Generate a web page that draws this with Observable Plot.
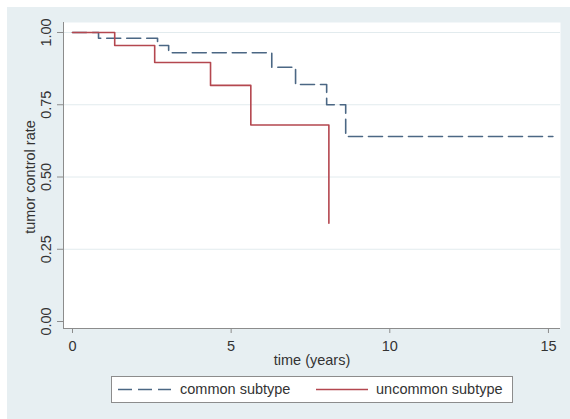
<!DOCTYPE html>
<html>
<head>
<meta charset="utf-8">
<script src="https://cdn.jsdelivr.net/npm/d3@7"></script>
<script src="https://cdn.jsdelivr.net/npm/@observablehq/plot@0.6"></script>
<style>
  html, body { margin: 0; padding: 0; background: #ffffff; }
  #wrap { position: relative; width: 570px; height: 419px; background: #ffffff; overflow: hidden;
          font-family: "Liberation Sans", Arial, sans-serif; }
  #panel { position: absolute; left: 7px; top: 7px; width: 563px; height: 412px; background: #e7eff2; }
  #chart { position: absolute; left: 0; top: 0; }
  #legend { position: absolute; left: 111px; top: 376px; width: 402px; height: 27px; box-sizing: border-box;
            border: 1px solid #8c8c8c; background: #ffffff; font-size: 14.5px; color: #333; }
  #legend .item { position: absolute; top: 0; height: 25px; line-height: 25px; white-space: nowrap; }
  #legend svg { position: absolute; top: 0; }
</style>
</head>
<body>
<div id="wrap">
  <div id="panel"></div>
  <div id="chart"></div>
  <div id="legend"></div>
</div>
<script>
// ---- data ----
const seriesNames = ["common subtype", "uncommon subtype"];
const commonTimes  = [0, 0.82, 2.68, 3.03, 6.28, 7.03, 8.01, 8.61, 15.14];
const commonRates  = [1.00, 0.98, 0.955, 0.93, 0.88, 0.82, 0.75, 0.64, 0.64];
const uncommonTimes = [0, 1.33, 2.59, 4.35, 5.62, 8.08];
const uncommonRates = [1.00, 0.955, 0.896, 0.817, 0.68, 0.34];
const xTicks = [0, 5, 10, 15];
const yTicks = [0, 0.25, 0.5, 0.75, 1];
const gridVals = [0.25, 0.5, 0.75, 1];
const xTitle = "time (years)";
const yTitle = "tumor control rate";

const colors = { common: "#4b6784", uncommon: "#b4474f" };
const dash = "14,6";

const common = commonTimes.map((t, i) => ({ t, s: commonRates[i] }));
const uncommon = uncommonTimes.map((t, i) => ({ t, s: uncommonRates[i] }));

const xDom = [-0.284, 15.38];
const yDom = [-0.0242, 1.0346];
const axisColor = "#8c8c8c";
const textColor = "#333333";
const fontFamily = '"Liberation Sans", Arial, sans-serif';
const fs = 14.5;

const chart = Plot.plot({
  width: 570,
  height: 372,
  marginLeft: 63,
  marginRight: 10,
  marginTop: 22,
  marginBottom: 44,
  x: { domain: xDom, label: null },
  y: { domain: yDom, label: null },
  style: { background: "transparent", fontFamily, fontSize: fs + "px", color: textColor },
  marks: [
    Plot.frame({ fill: "white", stroke: "none" }),
    Plot.ruleY(gridVals, { stroke: "#e2ebee", strokeWidth: 1 }),
    Plot.ruleX([xDom[0]], { stroke: axisColor, strokeWidth: 1 }),
    Plot.ruleY([yDom[0]], { stroke: axisColor, strokeWidth: 1 }),
    Plot.axisY({ ticks: yTicks, tickSize: 6, tickFormat: () => "", stroke: axisColor, label: null }),
    Plot.axisX({ ticks: xTicks, tickSize: 5, tickFormat: () => "", stroke: axisColor, label: null }),
    Plot.text(yTicks, { x: xDom[0], y: d => d, text: d => d.toFixed(2), rotate: -90, dx: -17,
      textAnchor: "middle", lineAnchor: "middle", fontSize: fs, fill: textColor }),
    Plot.text(xTicks, { x: d => d, y: yDom[0], text: d => String(d), dy: 18,
      textAnchor: "middle", lineAnchor: "middle", fontSize: fs, fill: textColor }),
    Plot.text([xTitle], { frameAnchor: "bottom", text: d => d, dy: 32, lineAnchor: "middle",
      fontSize: fs, fill: textColor }),
    Plot.text([yTitle], { x: xDom[0], y: 0.5, text: d => d, rotate: -90, dx: -33,
      textAnchor: "middle", lineAnchor: "middle", fontSize: fs, fill: textColor }),
    Plot.line(common, { x: "t", y: "s", curve: "step-after", stroke: colors.common,
      strokeWidth: 1.6, strokeDasharray: dash }),
    Plot.line(uncommon, { x: "t", y: "s", curve: "step-after", stroke: colors.uncommon,
      strokeWidth: 1.6 })
  ]
});
document.getElementById("chart").appendChild(chart);

// ---- legend ----
const legend = document.getElementById("legend");
const items = [
  { name: seriesNames[0], color: colors.common, dash: dash, x0: 5, x1: 58, tx: 68 },
  { name: seriesNames[1], color: colors.uncommon, dash: null, x0: 203, x1: 255, tx: 264 }
];
for (const it of items) {
  const ns = "http://www.w3.org/2000/svg";
  const svg = document.createElementNS(ns, "svg");
  svg.setAttribute("width", it.x1 - it.x0 + 2);
  svg.setAttribute("height", 25);
  svg.style.left = it.x0 + "px";
  const ln = document.createElementNS(ns, "line");
  ln.setAttribute("x1", 1); ln.setAttribute("x2", it.x1 - it.x0 + 1);
  ln.setAttribute("y1", 12.5); ln.setAttribute("y2", 12.5);
  ln.setAttribute("stroke", it.color); ln.setAttribute("stroke-width", 1.6);
  if (it.dash) ln.setAttribute("stroke-dasharray", it.dash);
  svg.appendChild(ln);
  legend.appendChild(svg);
  const span = document.createElement("span");
  span.className = "item";
  span.style.left = it.tx + "px";
  span.textContent = it.name;
  legend.appendChild(span);
}
</script>
</body>
</html>
